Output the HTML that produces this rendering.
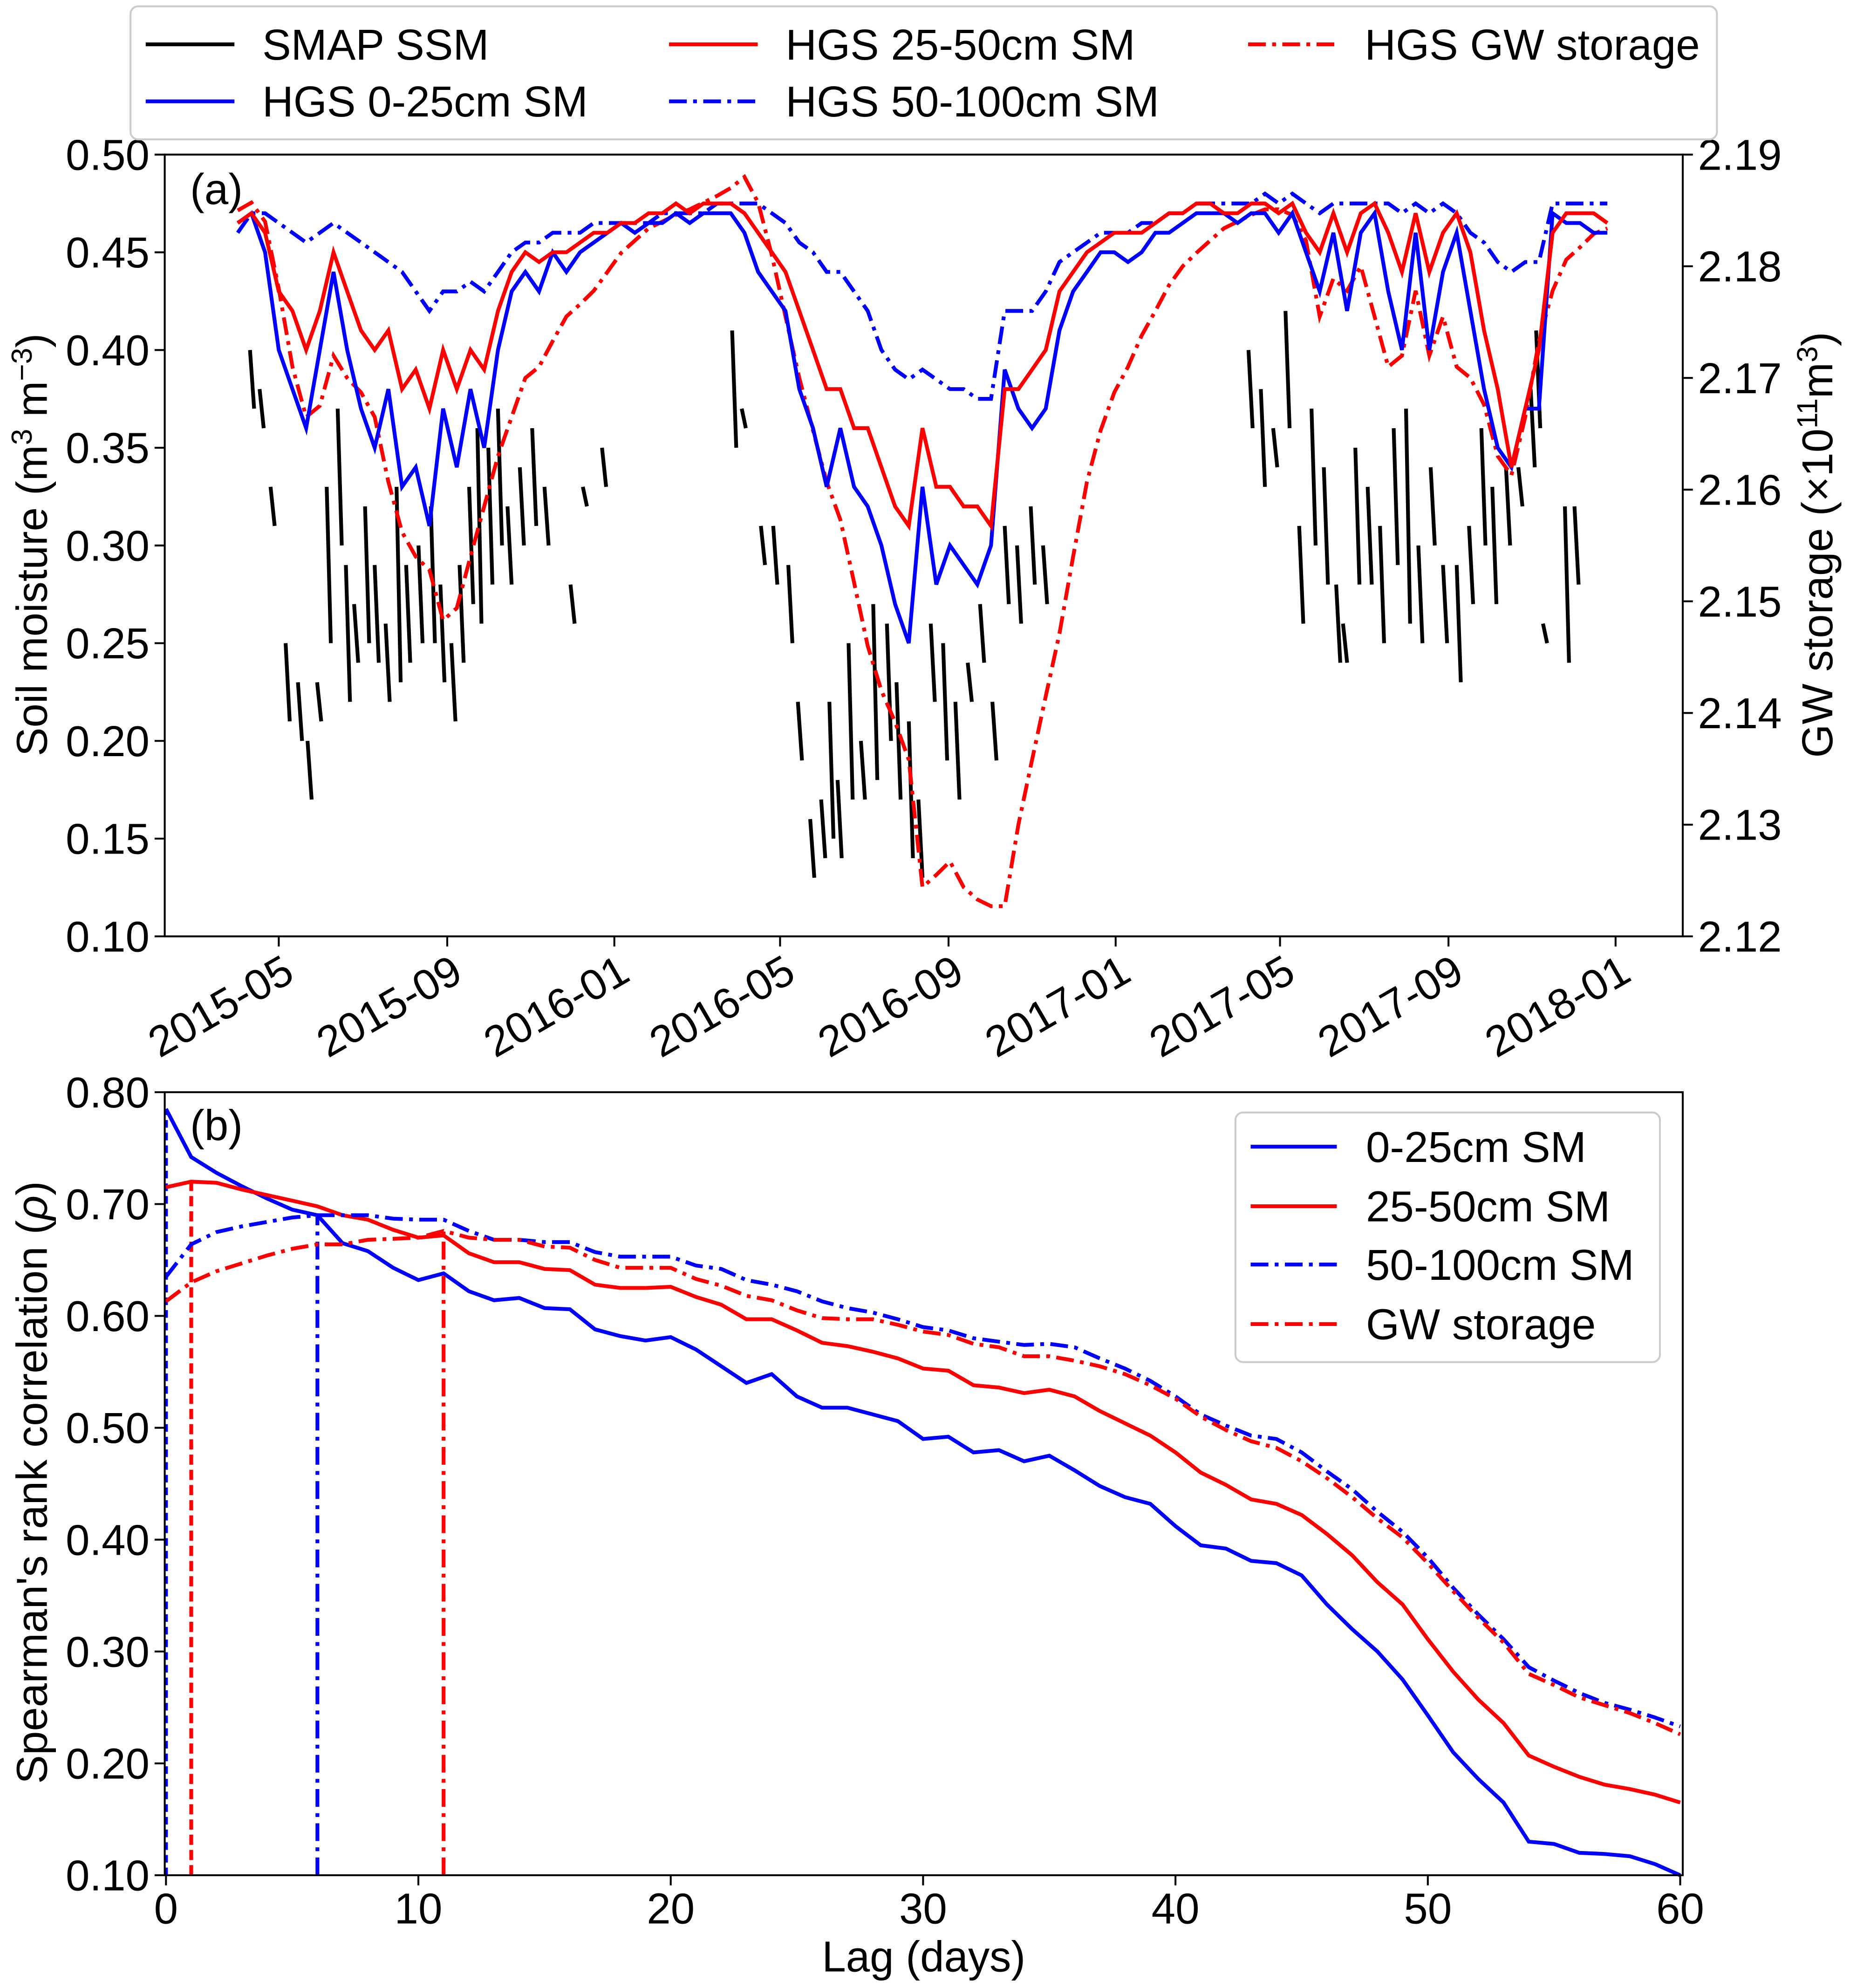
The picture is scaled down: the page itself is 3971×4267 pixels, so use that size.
<!DOCTYPE html>
<html><head><meta charset="utf-8">
<style>
html,body{margin:0;padding:0;background:#fff;}
svg{display:block;font-family:"Liberation Sans","DejaVu Sans",sans-serif;}
</style></head>
<body>
<svg id="chart" xmlns="http://www.w3.org/2000/svg" width="3971" height="4267" viewBox="0 0 1460 1569" preserveAspectRatio="none">
<rect x="0" y="0" width="1460" height="1569" fill="#fff"/>
<g id="topPanel"></g>
<g id="bottomPanel"></g>
<g id="legend-top">
<rect x="103" y="5" width="1252" height="105" rx="6" fill="#fff" stroke="#ccc" stroke-width="1.5"/>
<line x1="115" y1="35" x2="185" y2="35" stroke="#000" stroke-width="3"/>
<text x="207" y="47" font-size="34">SMAP SSM</text>
<line x1="115" y1="80" x2="185" y2="80" stroke="#00f" stroke-width="3"/>
<text x="207" y="92" font-size="34">HGS 0-25cm SM</text>
<line x1="528" y1="35" x2="598" y2="35" stroke="#f00" stroke-width="3"/>
<text x="620" y="47" font-size="34">HGS 25-50cm SM</text>
<line x1="528" y1="80" x2="598" y2="80" stroke="#00f" stroke-width="3" stroke-dasharray="14,5,3,5"/>
<text x="620" y="92" font-size="34">HGS 50-100cm SM</text>
<line x1="985" y1="35" x2="1055" y2="35" stroke="#f00" stroke-width="3" stroke-dasharray="14,5,3,5"/>
<text x="1077" y="47" font-size="34">HGS GW storage</text>
</g>
</svg>
<script>
// ---------- Panel (a) data ----------
const days = [];
for (let d = 90; d <= 1090; d += 10) days.push(d);
const sm0_25 = [0.465,0.47,0.45,0.40,0.38,0.36,0.40,0.44,0.40,0.37,0.35,0.38,0.33,0.34,0.31,0.37,0.34,0.38,0.35,0.40,0.43,0.44,0.43,0.45,0.44,0.45,0.455,0.46,0.465,0.46,0.465,0.465,0.47,0.465,0.47,0.47,0.47,0.46,0.44,0.43,0.42,0.38,0.36,0.33,0.36,0.33,0.32,0.30,0.27,0.25,0.33,0.28,0.30,0.29,0.28,0.30,0.39,0.37,0.36,0.37,0.41,0.43,0.44,0.45,0.45,0.445,0.45,0.46,0.46,0.465,0.47,0.47,0.47,0.465,0.47,0.47,0.46,0.47,0.45,0.43,0.46,0.42,0.46,0.47,0.43,0.40,0.46,0.40,0.44,0.46,0.42,0.38,0.35,0.34,0.37,0.37,0.47,0.465,0.465,0.46,0.46];
const sm25_50 = [0.465,0.47,0.46,0.43,0.42,0.40,0.42,0.45,0.43,0.41,0.40,0.41,0.38,0.39,0.37,0.40,0.38,0.40,0.39,0.42,0.44,0.45,0.445,0.45,0.45,0.455,0.46,0.46,0.465,0.465,0.47,0.47,0.475,0.47,0.475,0.475,0.475,0.47,0.46,0.45,0.44,0.42,0.40,0.38,0.38,0.36,0.36,0.34,0.32,0.31,0.36,0.33,0.33,0.32,0.32,0.31,0.38,0.38,0.39,0.40,0.43,0.44,0.45,0.455,0.46,0.46,0.46,0.465,0.47,0.47,0.475,0.475,0.47,0.47,0.475,0.475,0.47,0.475,0.46,0.45,0.47,0.45,0.47,0.475,0.46,0.44,0.47,0.44,0.46,0.47,0.45,0.41,0.38,0.34,0.37,0.40,0.46,0.47,0.47,0.47,0.465];
const sm50_100 = [0.46,0.47,0.47,0.465,0.46,0.455,0.46,0.465,0.46,0.455,0.45,0.445,0.44,0.43,0.42,0.43,0.43,0.435,0.43,0.44,0.45,0.455,0.455,0.46,0.46,0.46,0.465,0.465,0.465,0.465,0.465,0.47,0.47,0.47,0.47,0.475,0.475,0.475,0.475,0.47,0.465,0.455,0.45,0.44,0.44,0.43,0.42,0.40,0.39,0.385,0.39,0.385,0.38,0.38,0.375,0.375,0.42,0.42,0.42,0.43,0.445,0.45,0.455,0.46,0.46,0.46,0.465,0.465,0.47,0.47,0.475,0.475,0.475,0.475,0.475,0.48,0.475,0.48,0.475,0.47,0.475,0.475,0.475,0.475,0.475,0.47,0.475,0.47,0.475,0.47,0.46,0.455,0.445,0.44,0.445,0.445,0.475,0.475,0.475,0.475,0.475];
const gwStorage = [2.185,2.1857,2.184,2.178,2.171,2.1665,2.1675,2.172,2.170,2.1687,2.1665,2.1607,2.1562,2.154,2.1528,2.1483,2.1494,2.154,2.1585,2.163,2.1665,2.170,2.171,2.1733,2.1755,2.1766,2.1778,2.1795,2.1812,2.1823,2.1834,2.184,2.1846,2.1851,2.1857,2.1863,2.187,2.188,2.1857,2.181,2.1755,2.170,2.1653,2.1607,2.1573,2.1517,2.146,2.142,2.1392,2.1358,2.1244,2.1255,2.1267,2.1244,2.1233,2.1227,2.1227,2.130,2.1358,2.1415,2.1471,2.154,2.1607,2.1653,2.1687,2.171,2.1738,2.176,2.1783,2.180,2.1812,2.1823,2.1834,2.184,2.1846,2.1851,2.1851,2.1846,2.1823,2.1755,2.1789,2.1778,2.180,2.1755,2.171,2.172,2.1778,2.172,2.1755,2.171,2.170,2.1676,2.163,2.1613,2.1665,2.1733,2.1778,2.1806,2.1817,2.1829,2.1834];
// SMAP segments: start day, start value, end value
const smapDays = [99,106,114,125,134,141,148,155,163,169,175,183,190,198,206,213,222,231,238,246,252,259,265,273,280,287,296,305,314,333,342,356,451,458,472,481,492,499,508,516,522,528,536,545,554,564,571,580,587,596,605,614,623,632,641,650,659,669,678,828,837,846,855,865,874,883,892,897,906,915,924,934,943,952,961,970,980,989,998,1006,1016,1025,1034,1038,1043,1059,1066];
const smapStart = [0.40,0.38,0.33,0.25,0.23,0.20,0.23,0.33,0.37,0.29,0.27,0.32,0.29,0.26,0.33,0.29,0.30,0.32,0.28,0.25,0.29,0.33,0.36,0.35,0.37,0.32,0.34,0.36,0.33,0.28,0.33,0.35,0.41,0.37,0.31,0.31,0.29,0.22,0.16,0.17,0.22,0.18,0.25,0.20,0.27,0.26,0.23,0.21,0.17,0.26,0.25,0.22,0.24,0.27,0.22,0.31,0.30,0.32,0.30,0.40,0.38,0.36,0.42,0.31,0.37,0.34,0.28,0.26,0.35,0.33,0.31,0.36,0.37,0.30,0.34,0.29,0.29,0.31,0.36,0.33,0.34,0.34,0.38,0.41,0.26,0.32,0.32];
const smapEnd = [0.37,0.36,0.31,0.21,0.20,0.17,0.21,0.25,0.30,0.22,0.24,0.25,0.24,0.22,0.23,0.24,0.25,0.25,0.23,0.21,0.24,0.27,0.26,0.28,0.30,0.28,0.30,0.31,0.30,0.26,0.32,0.33,0.35,0.36,0.29,0.28,0.25,0.19,0.13,0.14,0.15,0.14,0.17,0.17,0.18,0.20,0.17,0.14,0.13,0.22,0.19,0.17,0.22,0.24,0.19,0.27,0.26,0.28,0.27,0.36,0.33,0.34,0.36,0.26,0.30,0.28,0.24,0.24,0.28,0.28,0.25,0.29,0.26,0.25,0.30,0.25,0.23,0.27,0.30,0.27,0.30,0.32,0.34,0.36,0.25,0.24,0.28];
const dateTickLabels = ["2015-05","2015-09","2016-01","2016-05","2016-09","2017-01","2017-05","2017-09","2018-01"];
const dateTickDays = [120,243,365,486,609,731,851,974,1096];
const smTicks = [0.10,0.15,0.20,0.25,0.30,0.35,0.40,0.45,0.50];
const gwTicks = [2.12,2.13,2.14,2.15,2.16,2.17,2.18,2.19];
// ---------- Panel (b) data ----------
const lags = [];
for (let i = 0; i <= 60; i++) lags.push(i);
const rho0_25 = [0.785,0.742,0.728,0.716,0.705,0.695,0.69,0.665,0.658,0.643,0.632,0.638,0.622,0.614,0.616,0.607,0.606,0.588,0.582,0.578,0.581,0.57,0.555,0.54,0.548,0.528,0.518,0.518,0.512,0.506,0.49,0.492,0.478,0.48,0.47,0.475,0.462,0.448,0.438,0.432,0.412,0.395,0.392,0.381,0.379,0.368,0.342,0.32,0.3,0.275,0.243,0.21,0.186,0.165,0.13,0.128,0.12,0.119,0.117,0.11,0.1];
const rho25_50 = [0.715,0.72,0.719,0.713,0.708,0.703,0.698,0.69,0.686,0.677,0.67,0.672,0.656,0.648,0.648,0.642,0.641,0.628,0.625,0.625,0.626,0.617,0.61,0.597,0.597,0.587,0.576,0.573,0.568,0.562,0.553,0.551,0.538,0.536,0.531,0.534,0.528,0.515,0.504,0.493,0.478,0.46,0.449,0.436,0.432,0.422,0.405,0.386,0.362,0.342,0.311,0.282,0.257,0.236,0.207,0.197,0.188,0.181,0.177,0.172,0.165];
const rho50_100 = [0.635,0.664,0.675,0.68,0.684,0.688,0.69,0.69,0.69,0.687,0.686,0.686,0.676,0.668,0.668,0.666,0.666,0.657,0.653,0.653,0.653,0.645,0.642,0.632,0.628,0.622,0.613,0.607,0.603,0.597,0.59,0.587,0.58,0.577,0.574,0.575,0.572,0.562,0.553,0.542,0.528,0.512,0.502,0.493,0.49,0.478,0.461,0.445,0.425,0.407,0.384,0.357,0.333,0.311,0.286,0.274,0.263,0.254,0.248,0.241,0.233];
const rhoGW = [0.613,0.63,0.64,0.647,0.654,0.66,0.664,0.664,0.668,0.669,0.67,0.676,0.67,0.668,0.668,0.662,0.661,0.65,0.643,0.643,0.643,0.633,0.627,0.618,0.614,0.605,0.598,0.597,0.597,0.592,0.586,0.583,0.575,0.572,0.564,0.564,0.56,0.555,0.548,0.538,0.526,0.51,0.498,0.488,0.482,0.47,0.455,0.438,0.419,0.402,0.379,0.354,0.33,0.308,0.28,0.27,0.259,0.252,0.245,0.236,0.226];
const lagTicks = [0,10,20,30,40,50,60];
const rhoTicks = [0.10,0.20,0.30,0.40,0.50,0.60,0.70,0.80];

const NS = "http://www.w3.org/2000/svg";
function mk(parent, tag, attrs, text) {
  const e = document.createElementNS(NS, tag);
  for (const k in attrs) e.setAttribute(k, attrs[k]);
  if (text !== undefined) e.textContent = text;
  parent.appendChild(e);
  return e;
}
const DD = "14,5,3,5";
const FS = 34;

// ---------- Panel (a) ----------
const topG = document.getElementById("topPanel");
const A = {x0:130, x1:1328, y0:122, y1:739};
const xa = d => 220 + (d - 120) * (1055 / 976);
const ya = v => A.y1 - (v - 0.10) / 0.40 * (A.y1 - A.y0);
const yg = v => A.y1 - (v - 2.12) / 0.07 * (A.y1 - A.y0);
function pathFrom(xs, ys, fx, fy) {
  return xs.map((x, i) => (i ? "L" : "M") + fx(x).toFixed(1) + "," + fy(ys[i]).toFixed(1)).join(" ");
}
for (let i = 0; i < smapDays.length; i++) {
  const s = mk(topG, "line", {x1: xa(smapDays[i]), y1: ya(smapStart[i]), x2: xa(smapDays[i] + 3), y2: ya(smapEnd[i]), stroke: "#000", "stroke-width": 3});
  
  
}
let p;
p = mk(topG, "path", {d: pathFrom(days, gwStorage, xa, yg), fill: "none", stroke: "#f00", "stroke-width": 3, "stroke-dasharray": DD});


p = mk(topG, "path", {d: pathFrom(days, sm50_100, xa, ya), fill: "none", stroke: "#00f", "stroke-width": 3, "stroke-dasharray": DD});


p = mk(topG, "path", {d: pathFrom(days, sm0_25, xa, ya), fill: "none", stroke: "#00f", "stroke-width": 3});


p = mk(topG, "path", {d: pathFrom(days, sm25_50, xa, ya), fill: "none", stroke: "#f00", "stroke-width": 3});


let fr = mk(topG, "rect", {x: A.x0, y: A.y0, width: A.x1 - A.x0, height: A.y1 - A.y0, fill: "none", stroke: "#000", "stroke-width": 1.5});


smTicks.forEach(v => {
  mk(topG, "line", {x1: A.x0 - 8, x2: A.x0, y1: ya(v), y2: ya(v), stroke: "#000", "stroke-width": 1.5});
  const t = mk(topG, "text", {x: A.x0 - 12, y: ya(v) + 12, "font-size": FS, "text-anchor": "end"}, v.toFixed(2));
  
  
});
gwTicks.forEach(v => {
  mk(topG, "line", {x1: A.x1, x2: A.x1 + 8, y1: yg(v), y2: yg(v), stroke: "#000", "stroke-width": 1.5});
  const t = mk(topG, "text", {x: A.x1 + 12, y: yg(v) + 12, "font-size": FS}, v.toFixed(2));
  
  
});
dateTickDays.forEach((d, i) => {
  const x = xa(d);
  mk(topG, "line", {x1: x, x2: x, y1: A.y1, y2: A.y1 + 8, stroke: "#000", "stroke-width": 1.5});
  const t = mk(topG, "text", {x: x + 14, y: A.y1 + 34, "font-size": FS, "text-anchor": "end", transform: `rotate(-30 ${x + 14} ${A.y1 + 34})`}, dateTickLabels[i]);
  
  
});
let t;
t = mk(topG, "text", {x: 150, y: 161, "font-size": FS}, "(a)");


t = mk(topG, "text", {x: 0, y: 0, "font-size": FS, "text-anchor": "middle", transform: "translate(37 430) rotate(-90)"});


t.innerHTML = 'Soil moisture (m<tspan dy="-12" font-size="23">3</tspan><tspan dy="12"> m</tspan><tspan dy="-12" font-size="23">−3</tspan><tspan dy="12">)</tspan>';
t = mk(topG, "text", {x: 0, y: 0, "font-size": FS, "text-anchor": "middle", transform: "translate(1446 430) rotate(-90)"});


t.innerHTML = 'GW storage (×10<tspan dy="-12" font-size="23">11</tspan><tspan dy="12">m</tspan><tspan dy="-12" font-size="23">3</tspan><tspan dy="12">)</tspan>';

// ---------- Panel (b) ----------
const botG = document.getElementById("bottomPanel");
const B = {x0:130, x1:1328, y0:862, y1:1480};
const xb = l => 131 + l / 60 * (1326 - 131);
const yb = v => B.y1 - (v - 0.10) / 0.70 * (B.y1 - B.y0);
const maxLag = arr => arr.indexOf(Math.max(...arr));
const series = [
  {arr: rho0_25, c: "#00f", dash: null, vd: "6,4", name: "rho-0-25cm-line"},
  {arr: rho25_50, c: "#f00", dash: null, vd: "8,4", name: "rho-25-50cm-line"},
  {arr: rho50_100, c: "#00f", dash: DD, vd: DD, name: "rho-50-100cm-line"},
  {arr: rhoGW, c: "#f00", dash: DD, vd: DD, name: "rho-gw-storage-line"}
];
series.forEach(s => {
  const attrs = {d: pathFrom(lags, s.arr, xb, yb), fill: "none", stroke: s.c, "stroke-width": 3};
  if (s.dash) attrs["stroke-dasharray"] = s.dash;
  const e = mk(botG, "path", attrs);
  
  
  const m = maxLag(s.arr);
  const v = mk(botG, "line", {x1: xb(m), x2: xb(m), y1: B.y1, y2: yb(s.arr[m]), stroke: s.c, "stroke-width": 3, "stroke-dasharray": s.vd});
  
  
});
fr = mk(botG, "rect", {x: B.x0, y: B.y0, width: B.x1 - B.x0, height: B.y1 - B.y0, fill: "none", stroke: "#000", "stroke-width": 1.5});


rhoTicks.forEach(v => {
  mk(botG, "line", {x1: B.x0 - 8, x2: B.x0, y1: yb(v), y2: yb(v), stroke: "#000", "stroke-width": 1.5});
  const e = mk(botG, "text", {x: B.x0 - 12, y: yb(v) + 12, "font-size": FS, "text-anchor": "end"}, v.toFixed(2));
  
  
});
lagTicks.forEach(l => {
  mk(botG, "line", {x1: xb(l), x2: xb(l), y1: B.y1, y2: B.y1 + 8, stroke: "#000", "stroke-width": 1.5});
  const e = mk(botG, "text", {x: xb(l), y: B.y1 + 38, "font-size": FS, "text-anchor": "middle"}, String(l));
  
  
});
t = mk(botG, "text", {x: 150, y: 900, "font-size": FS}, "(b)");


t = mk(botG, "text", {x: 729, y: 1556, "font-size": FS, "text-anchor": "middle"}, "Lag (days)");


t = mk(botG, "text", {x: 0, y: 0, "font-size": FS, "text-anchor": "middle", transform: "translate(37 1170) rotate(-90)"}, "Spearman's rank correlation (");


mk(t, "tspan", {"font-style": "italic"}, "ρ");
mk(t, "tspan", {}, ")");
// legend b
const lg = mk(botG, "g", {});


mk(lg, "rect", {x: 975, y: 878, width: 335, height: 197, rx: 6, fill: "#fff", stroke: "#ccc", "stroke-width": 1.5});
const legNames = ["0-25cm SM", "25-50cm SM", "50-100cm SM", "GW storage"];
const legY = [905, 952, 998, 1045];
series.forEach((s, i) => {
  const a = {x1: 987, x2: 1055, y1: legY[i], y2: legY[i], stroke: s.c, "stroke-width": 3};
  if (s.dash) a["stroke-dasharray"] = s.dash;
  mk(lg, "line", a);
  const e = mk(lg, "text", {x: 1078, y: legY[i] + 12, "font-size": FS}, legNames[i]);
  
  
});
</script>
</body></html>
